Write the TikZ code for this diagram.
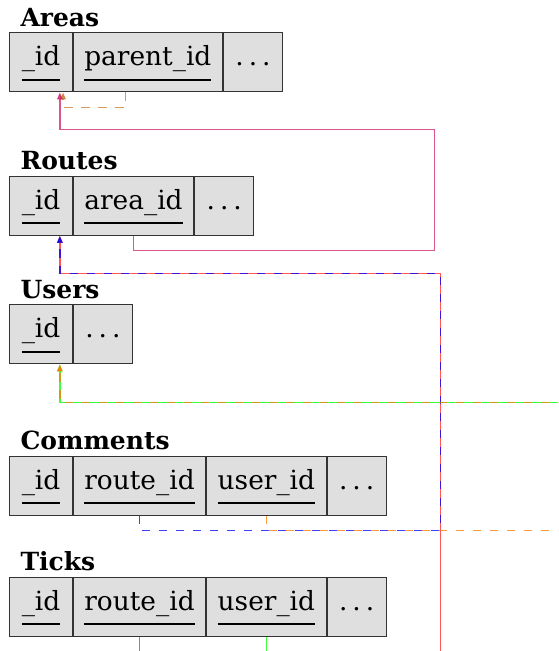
\documentclass[tikz,border=0pt]{standalone}
\usepackage{fontspec}
\setmainfont{DejaVu Serif}
\usetikzlibrary{arrows.meta}
\newcommand\keyu[1]{\setbox0\hbox{#1}\rlap{\vrule height -12.9pt depth 15.1pt width \wd0}\box0}
\newcommand\moredots{.\kern5pt.\kern5pt.}
\newcommand\cellfont{\fontsize{26.4}{30}\selectfont}
\newcommand\titlefont{\fontsize{25}{29}\selectfont\bfseries}
\tikzset{
  cell/.style={draw=black!80, line width=1.1pt, fill=gray!25, inner xsep=11pt, inner ysep=0pt,
    text height=33pt, text depth=26pt, anchor=north west, font=\cellfont},
  idcell/.style={cell, minimum width=62.4pt},
  morecell/.style={cell, minimum width=59pt},
  tabtitle/.style={anchor=base west, inner sep=0pt, font=\titlefont},
  fk/.style={line width=1.3pt, draw opacity=0.75, fill opacity=0.75, -{Triangle[length=7pt,width=5.5pt]}},
  fkd/.style={fk, dash pattern=on 8.5pt off 8.5pt},
}
\definecolor{pinkc}{RGB}{205,30,100}
\definecolor{brownc}{RGB}{200,120,40}
\definecolor{orangec}{RGB}{255,120,0}
\definecolor{bluec}{RGB}{0,0,255}
\definecolor{greenc}{RGB}{0,255,0}
\definecolor{redc}{RGB}{255,30,30}
\begin{document}
\begin{tikzpicture}[x=1pt,y=-1pt]
\useasboundingbox (0,0) rectangle (558,651);
\clip (0,0) rectangle (558,651);
% Areas
\node[tabtitle] (at) at (20.3,26.3) {Areas};
\node[idcell] (a-id) at (9.3,32.3) {\keyu{\_id}};
\node[cell] (a-parent) at (a-id.north east) {\keyu{parent\_id}};
\node[morecell] (a-more) at (a-parent.north east) {\moredots};
% Routes
\node[tabtitle] (rt) at (20.3,169.7) {Routes};
\node[idcell] (r-id) at (9.3,175.7) {\keyu{\_id}};
\node[cell] (r-area) at (r-id.north east) {\keyu{area\_id}};
\node[morecell] (r-more) at (r-area.north east) {\moredots};
% Users
\node[tabtitle] (ut) at (20.3,298.3) {Users};
\node[idcell] (u-id) at (9.3,304.3) {\keyu{\_id}};
\node[morecell] (u-more) at (u-id.north east) {\moredots};
% Comments
\node[tabtitle] (ct) at (20.3,449.7) {Comments};
\node[idcell] (c-id) at (9.3,455.7) {\keyu{\_id}};
\node[cell] (c-route) at (c-id.north east) {\keyu{route\_id}};
\node[cell] (c-user) at (c-route.north east) {\keyu{user\_id}};
\node[morecell] (c-more) at (c-user.north east) {\moredots};
% Ticks
\node[tabtitle] (tt) at (20.3,570.7) {Ticks};
\node[idcell] (t-id) at (9.3,576.7) {\keyu{\_id}};
\node[cell] (t-route) at (t-id.north east) {\keyu{route\_id}};
\node[cell] (t-user) at (t-route.north east) {\keyu{user\_id}};
\node[morecell] (t-more) at (t-user.north east) {\moredots};
% lane coordinates
\coordinate (selflane) at (0,107.5);
\coordinate (arealane) at (0,250.5);
\coordinate (pinkc1) at (434.5,129.5);
\coordinate (routex) at (440.5,273.5);
\coordinate (userx) at (600,402.5);
\coordinate (comlane) at (0,530.5);
\coordinate (offbottom) at (0,680);
% connectors
\draw[fkd, brownc] ([xshift=-22.3pt]a-parent.south) -- ([xshift=-22.3pt]a-parent.south |- selflane) -| ([xshift=22pt]a-id.south);
\draw[fk, pinkc] (r-area.south) -- (r-area.south |- arealane) -| (pinkc1) -| ([xshift=18.8pt]a-id.south);
\draw[fk, redc] (t-route.south) -- (t-route.south |- offbottom) -| (routex) -| ([xshift=18.8pt]r-id.south);
\draw[fkd, bluec] (c-route.south) -- (c-route.south |- comlane) -| (routex) -| ([xshift=18.8pt]r-id.south);
\draw[fk, greenc] (t-user.south) -- (t-user.south |- offbottom) -| (userx) -| ([xshift=18.8pt]u-id.south);
\draw[fkd, orangec] (c-user.south) -- (c-user.south |- comlane) -| (userx) -| ([xshift=18.8pt]u-id.south);
\end{tikzpicture}
\end{document}
